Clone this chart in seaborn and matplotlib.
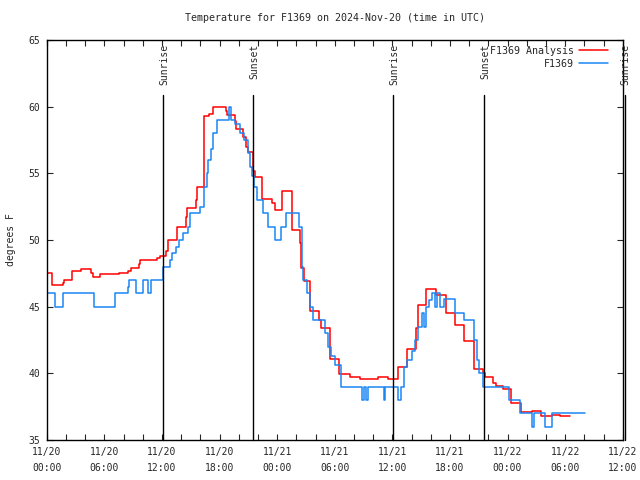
import numpy as np
import pandas as pd
import matplotlib
matplotlib.use("Agg")
import matplotlib.pyplot as plt
import matplotlib.transforms as mtransforms
import seaborn as sns

# --- data (hours since 2024-11-20 00:00 UTC, degrees F) ---
obs_hours = [0.0, 0.9, 1.65, 4.9, 7.1, 8.5, 8.6, 9.25, 10.05, 10.55, 10.85, 12.15,
             12.8, 13.1, 13.45, 13.8, 14.15, 14.7, 14.9, 15.95, 16.35, 16.7, 16.8,
             17.1, 17.3, 17.7, 19.0, 19.15, 19.6, 20.1, 20.6, 21.0, 21.2, 21.4, 21.6,
             21.9, 22.55, 23.0, 23.75, 24.45, 24.9, 26.3, 26.55, 26.7, 27.15, 27.4,
             27.75, 29.0, 29.3, 29.65, 30.05, 30.65, 32.85, 33.05, 33.3, 33.45, 35.1,
             35.25, 36.55, 36.9, 37.25, 37.55, 38.0, 38.35, 38.65, 39.1, 39.3, 39.5,
             39.8, 40.1, 40.4, 40.7, 41.0, 41.4, 42.5, 43.5, 44.55, 44.8, 45.0, 45.4,
             48.2, 49.25, 50.55, 50.75, 51.95, 52.6, 56.05]
obs_temp = [46, 45, 46, 45, 46, 46.5, 47, 46, 47, 46, 47, 48,
            48.5, 49, 49.5, 50, 50.5, 51, 52, 52.5, 54, 55, 56,
            56.8, 58, 59, 60, 59, 58.7, 58, 57.5, 56.5, 55.5, 54.8, 54,
            53, 52, 51, 50, 51, 52, 51, 48, 47, 46, 45,
            44, 43, 42, 41.3, 40.6, 39, 38, 39, 38, 39, 38,
            39, 38, 39, 40.5, 41, 41.7, 42.5, 43.5, 44.5, 43.5, 45,
            45.5, 46, 45, 46, 45, 45.6, 44.5, 44, 42.5, 41, 40, 39,
            38, 37, 36, 37, 36, 37, 37]

ana_hours = [0.0, 0.6, 1.65, 1.75, 2.65, 3.6, 4.65, 4.8, 5.5, 7.5, 8.5, 8.8, 9.6,
             9.7, 11.5, 11.8, 12.4, 12.6, 13.6, 14.5, 14.65, 15.5, 15.65, 16.4,
             16.9, 17.35, 18.65, 18.8, 19.6, 19.7, 20.45, 20.75, 21.0, 21.5, 21.7,
             22.45, 23.45, 23.8, 24.5, 25.5, 26.35, 26.5, 26.85, 27.4, 28.4, 28.6,
             29.55, 30.45, 31.6, 32.6, 34.55, 35.55, 36.55, 37.55, 38.5, 38.7,
             39.55, 40.5, 41.55, 42.5, 43.45, 44.5, 45.4, 45.7, 46.45, 46.8, 47.55,
             48.4, 49.45, 50.5, 51.45, 52.6, 53.45, 54.55]
ana_temp = [47.5, 46.6, 46.8, 47.0, 47.7, 47.85, 47.5, 47.2, 47.45, 47.5, 47.65,
            47.9, 48.2, 48.5, 48.65, 48.8, 49.2, 50.0, 51.0, 51.7, 52.4, 53.0,
            53.95, 59.3, 59.45, 60.0, 59.7, 59.4, 58.95, 58.3, 57.7, 56.95, 56.6,
            55.2, 54.7, 53.1, 52.75, 52.25, 53.7, 50.75, 49.75, 47.9, 46.9, 44.7,
            44.0, 43.4, 41.1, 39.95, 39.7, 39.6, 39.7, 39.55, 40.5, 41.8, 43.4,
            45.1, 46.3, 45.9, 44.5, 43.6, 42.45, 40.3, 40.0, 39.7, 39.25, 39.05,
            38.8, 37.8, 37.1, 37.2, 36.8, 36.9, 36.8, 36.8]

sun_events = [12.15, 21.5, 36.1, 45.55, 60.2]
sun_labels = ["Sunrise", "Sunset", "Sunrise", "Sunset", "Sunrise"]

tick_hours = [0, 6, 12, 18, 24, 30, 36, 42, 48, 54, 60]
tick_labels = ["11/20\n00:00", "11/20\n06:00", "11/20\n12:00", "11/20\n18:00",
               "11/21\n00:00", "11/21\n06:00", "11/21\n12:00", "11/21\n18:00",
               "11/22\n00:00", "11/22\n06:00", "11/22\n12:00"]

df_obs = pd.DataFrame({"hour": obs_hours, "temp": obs_temp})
df_ana = pd.DataFrame({"hour": ana_hours, "temp": ana_temp})

sns.set_style("ticks")
plt.rcParams["font.family"] = ["DejaVu Sans Mono"]
plt.rcParams["font.size"] = 7

fig = plt.figure(figsize=(6.4, 4.8), dpi=100)
ax = fig.add_axes([0.073, 0.0833, 0.900, 0.8334])

sns.lineplot(data=df_ana, x="hour", y="temp", ax=ax, color="#ff0000",
             drawstyle="steps-post", estimator=None, sort=False, lw=1.1,
             label="F1369 Analysis")
sns.lineplot(data=df_obs, x="hour", y="temp", ax=ax, color="#1a86f2",
             drawstyle="steps-post", estimator=None, sort=False, lw=1.1,
             label="F1369")

# sunrise / sunset markers
trans = mtransforms.blended_transform_factory(ax.transData, ax.transAxes)
for h, lab in zip(sun_events, sun_labels):
    ax.plot([h, h], [0, 0.8625], transform=trans, color="black", lw=1.0,
            clip_on=False)
    ax.text(h + 0.1, 0.99, lab, transform=trans, rotation=90, ha="center",
            va="top", fontsize=7)

ax.set_xlim(0, 60)
ax.set_ylim(35, 65)
ax.set_xticks(tick_hours)
ax.set_xticklabels(tick_labels, linespacing=1.7)
ax.set_xticks(np.arange(0, 61, 2), minor=True)
ax.set_yticks(np.arange(35, 66, 5))
ax.tick_params(axis="both", which="both", direction="in", top=True, right=True,
               length=4, width=0.8, pad=5, labelsize=7)
ax.tick_params(axis="x", which="minor", length=4)
for s in ax.spines.values():
    s.set_linewidth(1.0)
    s.set_color("black")

ax.set_xlabel("")
ax.set_ylabel("degrees F", fontsize=7, labelpad=9)
ax.set_title("Temperature for F1369 on 2024-Nov-20 (time in UTC)", fontsize=7.2,
             pad=14)

leg = ax.legend(loc="upper right", bbox_to_anchor=(0.985, 1.0), frameon=False,
                markerfirst=False, handlelength=2.9, handletextpad=0.5,
                labelspacing=0.3, borderaxespad=0.2, fontsize=7.2)

fig.savefig("out.png", dpi=100)
